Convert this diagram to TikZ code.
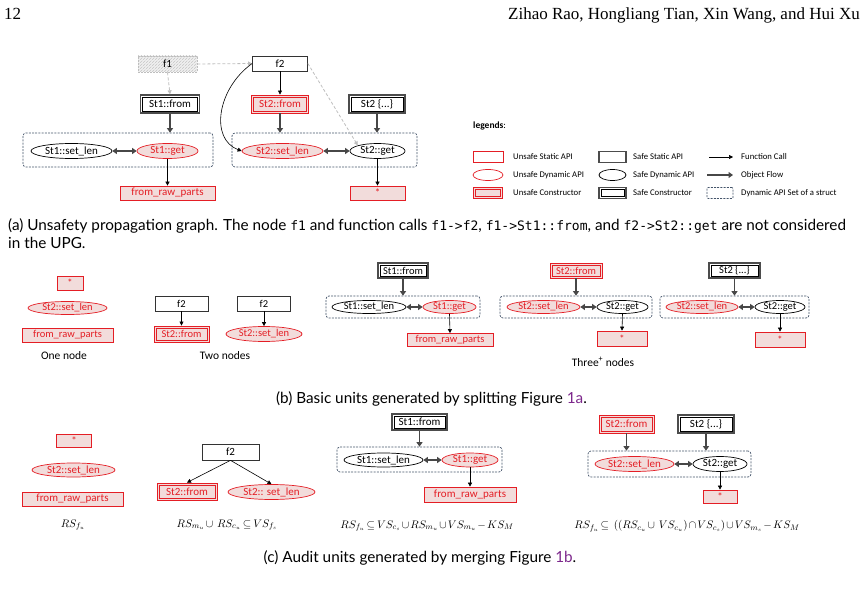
\documentclass[tikz,border=0pt]{standalone}
\usepackage{fontspec}
\setmainfont{Liberation Serif}
\setmonofont{DejaVu Sans Mono}[Scale=0.85]
\newfontfamily\nodefont{Carlito}
\newfontfamily\capfont{Lato}
\usetikzlibrary{arrows.meta,shapes.geometric,patterns,calc}
\definecolor{uRed}{RGB}{228,30,37}
\definecolor{uPink}{RGB}{242,220,219}
\definecolor{grpC}{RGB}{68,84,106}
\definecolor{refP}{RGB}{125,40,140}
\definecolor{lgray}{RGB}{190,190,190}
\def\nfsize{11}
\tikzset{
 nbase/.style={font=\nodefont\fontsize{\nfsize}{12}\selectfont, inner sep=0pt, minimum height=15pt, line width=0.7pt},
 ustat/.style={nbase, rectangle, draw=uRed, fill=uPink, text=uRed},
 udyn/.style={nbase, ellipse, draw=uRed, fill=uPink, text=uRed},
 ucons/.style={nbase, rectangle, draw=uRed, fill=uPink, text=uRed, line width=0.9pt,
   path picture={\draw[uRed, line width=0.6pt] ([shift={(1.9pt,-1.9pt)}]path picture bounding box.north west) rectangle ([shift={(-1.9pt,1.9pt)}]path picture bounding box.south east);}},
 sstat/.style={nbase, rectangle, draw=black!80, fill=white},
 sdyn/.style={nbase, ellipse, draw=black, fill=white},
 scons/.style={nbase, rectangle, draw=black!70, fill=white, line width=1.3pt,
   path picture={\draw[black, line width=0.6pt] ([shift={(2.1pt,-2.1pt)}]path picture bounding box.north west) rectangle ([shift={(-2.1pt,2.1pt)}]path picture bounding box.south east);}},
 grp/.style={rectangle, rounded corners=3pt, draw=grpC, dash pattern=on 2pt off 1.2pt, line width=0.7pt, inner sep=0pt},
 fcall/.style={draw=black, line width=0.6pt, -{Triangle[length=4pt,width=4pt]}},
 oflow/.style={draw=black!72, line width=1.6pt, -{Triangle[length=4.5pt,width=6pt]}},
 oflowb/.style={draw=black!72, line width=1.6pt, {Triangle[length=4.5pt,width=6pt]}-{Triangle[length=4.5pt,width=6pt]}},
 ghost/.style={draw=lgray, line width=0.8pt, dash pattern=on 3pt off 2pt, -{Triangle[length=4pt,width=4pt]}},
 lbl/.style={font=\nodefont\fontsize{8.7}{10}\selectfont, anchor=west, inner sep=0pt},
 captxt/.style={font=\capfont\fontsize{15.3}{17}\selectfont, inner sep=0pt, anchor=base west},
 frm/.style={font=\fontsize{11}{13}\selectfont, inner sep=0pt},
 subtxt/.style={font=\nodefont\fontsize{11.5}{13}\selectfont, inner sep=0pt},
 hdr/.style={inner sep=0pt, font=\fontsize{17}{19}\selectfont},
}
\begin{document}
\medmuskip=2mu plus 1mu
\thickmuskip=3mu plus 2mu
\begin{tikzpicture}[x=1pt,y=-1pt]
\useasboundingbox (0,0) rectangle (868,596);
% header
\node[hdr, anchor=base west] (pg) at (4,19.5) {12};
\node[hdr, anchor=base east] (au) at (860,19.5) {Zihao Rao, Hongliang Tian, Xin Wang, and Hui Xu};

% ---------- (a) ----------
\node[nbase, rectangle, minimum width=59pt, minimum height=16pt, draw=lgray, dash pattern=on 2pt off 1pt, preaction={fill=gray!12}, pattern=north east lines, pattern color=gray!45] (f1) at (167.5,64) {f1};
\node[sstat, minimum width=55pt] (f2) at (280,63.5) {f2};
\node[scons, minimum width=59pt, minimum height=18pt] (st1from) at (170,104) {St1::from};
\node[ucons, minimum width=57pt, minimum height=18pt] (st2from) at (280,104) {St2::from};
\node[scons, minimum width=56pt, minimum height=18pt] (st2br) at (377,104) {St2 \{...\}};
\node[grp, minimum width=190pt, minimum height=34pt] (g1) at (118,150) {};
\node[grp, minimum width=185pt, minimum height=34pt] (g2) at (324.5,150) {};
\node[sdyn, minimum width=81pt] (s1sl) at (71.5,151) {St1::set\_len};
\node[udyn, minimum width=61pt] (s1get) at (167.5,151) {St1::get};
\node[udyn, minimum width=81pt] (s2sl) at (282.5,151) {St2::set\_len};
\node[sdyn, minimum width=55pt] (s2get) at (377.5,151) {St2::get};
\node[ustat, minimum width=95pt, minimum height=14pt] (frp) at (167.5,193) {from\_raw\_parts};
\node[ustat, minimum width=55pt, minimum height=14pt] (star) at (377.5,193) {*};

\draw[ghost] (f1.east) -- (f2.west);
\draw[ghost] (f1.south) -- (st1from.north);
\draw[ghost] (f2.east) -- (s2get.north west);
\draw[fcall] (f2.south) -- (st2from.north);
\draw[fcall] (f2.west) .. controls +(-35,25) and +(-32,-12) .. (s2sl.west);
\draw[fcall] (s1get.south) -- (frp.north);
\draw[fcall] (s2get.south) -- (star.north);
\draw[oflow] (st1from.south) -- (st1from.south |- g1.north);
\draw[oflow] (st2from.south) -- (st2from.south |- g2.north);
\draw[oflow] (st2br.south) -- (st2br.south |- g2.north);
\draw[oflowb] (s1sl.east) -- (s1get.west);
\draw[oflowb] (s2sl.east) -- (s2get.west);

% legend
\node[anchor=west, inner sep=0pt, font=\nodefont\fontsize{9.5}{11}\selectfont] (lgt) at (473,126) {\textbf{legends}:};
\node[nbase, rectangle, draw=uRed, fill=white, minimum width=30pt, minimum height=11pt] (lg1) at (488,157) {};
\node[nbase, ellipse, draw=uRed, fill=white, minimum width=30pt, minimum height=11pt] (lg2) at (488,175) {};
\node[ucons, minimum width=29pt, minimum height=11pt] (lg3) at (488,193) {};
\node[sstat, line width=1.1pt, draw=black!70, minimum width=27pt, minimum height=11pt] (lg4) at (612.5,157) {};
\node[sdyn, minimum width=27pt, minimum height=11pt] (lg5) at (612.5,175) {};
\node[scons, minimum width=27pt, minimum height=11pt] (lg6) at (612.5,193) {};
\coordinate (fcA) at (709,157); \coordinate (fcB) at (733,157);
\coordinate (ofA) at (707,175); \coordinate (ofB) at (733,175);
\draw[fcall] (fcA) -- (fcB);
\draw[oflow] (ofA) -- (ofB);
\node[grp, rounded corners=1pt, minimum width=26pt, minimum height=11pt] (lg9) at (720,193) {};
\node[lbl] (l1) at (513,157) {Unsafe Static API};
\node[lbl] (l2) at (513,175) {Unsafe Dynamic API};
\node[lbl] (l3) at (513,193) {Unsafe Constructor};
\node[lbl] (l4) at (633,157) {Safe Static API};
\node[lbl] (l5) at (633,175) {Safe Dynamic API};
\node[lbl] (l6) at (633,193) {Safe Constructor};
\node[lbl] (l7) at (741,157) {Function Call};
\node[lbl] (l8) at (741,175) {Object Flow};
\node[lbl] (l9) at (741,193) {Dynamic API Set of a struct};

\node[captxt] (capa1) at (8,231) {(a) Unsafety propagation graph. The node \texttt{f1} and function calls \texttt{f1->f2}, \texttt{f1->St1::from}, and \texttt{f2->St2::get} are not considered};
\node[captxt] (capa2) at (8,249) {in the UPG.};

% ---------- (b) ----------
\begin{scope}
\def\nfsize{10.5}
\node[ustat, minimum width=26pt, minimum height=14pt] (bstar) at (70,283) {*};
\node[udyn, minimum width=79pt, minimum height=13pt] (bsl) at (67.5,308) {St2::set\_len};
\node[ustat, minimum width=91pt, minimum height=14pt] (bfrp) at (67.5,335) {from\_raw\_parts};
\node[subtxt] (one) at (64,356) {One node};
\node[sstat, minimum width=53pt] (bf2a) at (181.5,303.5) {f2};
\node[ucons, minimum width=55pt, minimum height=16pt] (bs2f) at (181.5,334) {St2::from};
\node[sstat, minimum width=53pt] (bf2b) at (264,303.5) {f2};
\node[udyn, minimum width=76pt] (bs2sl) at (264,334) {St2::set\_len};
\draw[fcall] (bf2a.south) -- (bs2f.north);
\draw[fcall] (bf2b.south) -- (bs2sl.north);
\node[subtxt] (two) at (225,356) {Two nodes};

\node[scons, minimum width=50pt] (b1from) at (403,270.5) {St1::from};
\node[grp, minimum width=154pt, minimum height=22pt] (b1g) at (403,307) {};
\node[sdyn, minimum width=74pt, minimum height=13pt] (b1sl) at (369,307) {St1::set\_len};
\node[udyn, minimum width=53pt, minimum height=13pt] (b1get) at (449.5,307) {St1::get};
\node[ustat, minimum width=86pt, minimum height=13pt] (b1frp) at (450,340) {from\_raw\_parts};
\draw[oflow] (b1from.south) -- (b1from.south |- b1g.north);
\draw[oflowb] (b1sl.east) -- (b1get.west);
\draw[fcall] (b1get.south) -- (b1frp.north);

\node[ucons, minimum width=52pt] (b2from) at (576,270.5) {St2::from};
\node[grp, minimum width=152pt, minimum height=22pt] (b2g) at (576,307) {};
\node[udyn, minimum width=73pt, minimum height=13pt] (b2sl) at (543.5,307) {St2::set\_len};
\node[sdyn, minimum width=51pt, minimum height=13pt] (b2get) at (622.5,307) {St2::get};
\node[ustat, minimum width=50pt, minimum height=15pt] (b2star) at (622,338.5) {*};
\draw[oflow] (b2from.south) -- (b2from.south |- b2g.north);
\draw[oflowb] (b2sl.east) -- (b2get.west);
\draw[fcall] (b2get.south) -- (b2star.north);

\node[scons, minimum width=51pt] (b3from) at (734.5,270.5) {St2 \{...\}};
\node[grp, minimum width=149pt, minimum height=22pt] (b3g) at (734.5,307) {};
\node[udyn, minimum width=72pt, minimum height=13pt] (b3sl) at (702,307) {St2::set\_len};
\node[sdyn, minimum width=50pt, minimum height=13pt] (b3get) at (780,307) {St2::get};
\node[ustat, minimum width=50pt, minimum height=15pt] (b3star) at (780,339.5) {*};
\draw[oflow] (b3from.south) -- (b3from.south |- b3g.north);
\draw[oflowb] (b3sl.east) -- (b3get.west);
\draw[fcall] (b3get.south) -- (b3star.north);
\node[subtxt] (three) at (603,362) {Three\textsuperscript{+} nodes};
\end{scope}
\node[captxt, anchor=base] (capb) at (431.5,403) {(b) Basic units generated by splitting Figure \textcolor{refP}{1a}.};

% ---------- (c) ----------
\node[ustat, minimum width=35pt, minimum height=13pt] (cstar) at (74,440.5) {*};
\node[udyn, minimum width=83pt, minimum height=14pt] (csl) at (73.5,470) {St2::set\_len};
\node[ustat, minimum width=101pt, minimum height=14pt] (cfrp) at (72.5,499) {from\_raw\_parts};
\node[frm] (fm1) at (73,525) {$RS_{f_u}$};

\node[sstat, minimum width=57pt, minimum height=16pt] (cf2) at (230.5,452) {f2};
\node[ucons, minimum width=60pt, minimum height=17pt] (cs2f) at (187,491.5) {St2::from};
\node[udyn, minimum width=87pt, minimum height=15pt] (cs2sl) at (271.5,492) {St2:: set\_len};
\draw[fcall] (cf2.south) -- (cs2f.north);
\draw[fcall] (cf2.south) -- (cs2sl.north);
\node[frm] (fm2) at (227,525) {$RS_{m_u}\cup\ RS_{c_u}\subseteq VS_{f_s}$};

\node[scons, minimum width=55pt, minimum height=16pt] (c1from) at (419.5,422) {St1::from};
\node[grp, minimum width=165pt, minimum height=25pt] (c1g) at (419.5,459.5) {};
\node[sdyn, minimum width=79pt, minimum height=14pt] (c1sl) at (383.5,460) {St1::set\_len};
\node[udyn, minimum width=56pt, minimum height=14pt] (c1get) at (470,460) {St1::get};
\node[ustat, minimum width=92pt, minimum height=15pt] (c1frp) at (470,494.5) {from\_raw\_parts};
\draw[oflow] (c1from.south) -- (c1from.south |- c1g.north);
\draw[oflowb] (c1sl.east) -- (c1get.west);
\draw[fcall] (c1get.south) -- (c1frp.north);
\node[frm] (fm3) at (427,526) {$RS_{f_u}\subseteq VS_{c_s}\cup RS_{m_u}\cup VS_{m_u}-KS_M$};

\node[ucons, minimum width=55pt, minimum height=18pt] (c2from) at (626.5,424) {St2::from};
\node[scons, minimum width=56pt, minimum height=18pt] (c2br) at (706,424) {St2 \{...\}};
\node[grp, minimum width=163pt, minimum height=26pt] (c2g) at (669.5,464) {};
\node[udyn, minimum width=79pt, minimum height=15pt] (c2sl) at (634.5,464) {St2::set\_len};
\node[sdyn, minimum width=54pt, minimum height=15pt] (c2get) at (720,464) {St2::get};
\node[ustat, minimum width=34pt, minimum height=13pt] (c2star) at (720,496.5) {*};
\draw[oflow] (c2from.south) -- (c2from.south |- c2g.north);
\draw[oflow] (c2br.south) -- (c2br.south |- c2g.north);
\draw[oflowb] (c2sl.east) -- (c2get.west);
\draw[fcall] (c2get.south) -- (c2star.north);
\node[frm] (fm4) at (687,526) {$RS_{f_u}\subseteq\ ((RS_{c_u}\cup\ VS_{c_u})\cap VS_{c_s})\cup VS_{m_s}-KS_M$};

\node[captxt, anchor=base] (capc) at (420,562) {(c) Audit units generated by merging Figure \textcolor{refP}{1b}.};
\end{tikzpicture}
\end{document}
